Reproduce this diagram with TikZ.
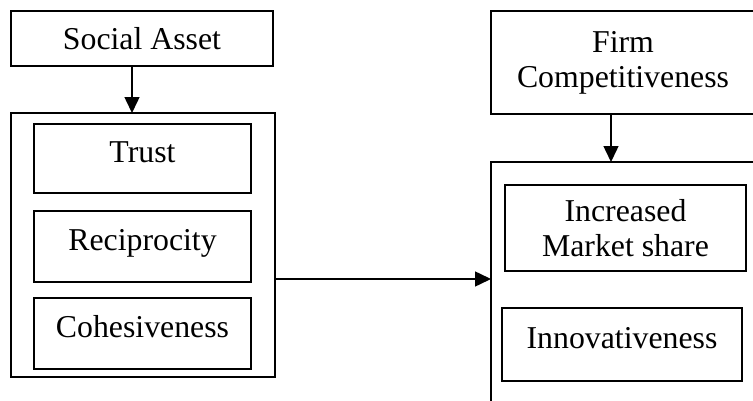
\documentclass[tikz,border=0pt]{standalone}
\usepackage{fontspec}
\setmainfont{Liberation Serif}
\usetikzlibrary{arrows.meta}

\begin{document}
\begin{tikzpicture}[
  x=1pt, y=1pt,
  every node/.style={font=\fontsize{31.8}{35}\selectfont, inner sep=0pt, outer sep=0pt},
  headbox/.style={draw, line width=2pt, align=center},
  outerbox/.style={draw, line width=2pt},
  itembox/.style={draw, line width=1.5pt, align=center},
  raised/.style={text height=21pt, text depth=14pt},
  arr/.style={-{Triangle[length=16pt, width=15pt]}, line width=1.5pt},
]
\useasboundingbox (0,0) rectangle (753,400);
\clip (0,0) rectangle (753,400);

% Left column: Social Asset
\node[headbox, minimum width=262, minimum height=55] (social) at (142,361.5) {Social Asset};
\node[outerbox, minimum width=264, minimum height=264] (leftbox) at (143,155) {};

\node[itembox, raised, minimum width=217, minimum height=69] (trust) at (142.5,241.5) {Trust};
\node[itembox, raised, minimum width=217, minimum height=71] (recip) at (142.5,153.5) {Reciprocity};
\node[itembox, raised, minimum width=217, minimum height=71] (cohes) at (142.5,66.5) {Cohesiveness};

% Right column: Firm Competitiveness
\node[headbox, minimum width=264, minimum height=103] (firm) at (623,337.5) {Firm\\Competitiveness};
\node[outerbox, minimum width=264, minimum height=258] (rightbox) at (623,109) {};

\node[itembox, minimum width=241, minimum height=86] (market) at (625.5,172) {Increased\\Market share};
\node[itembox, raised, minimum width=240, minimum height=73] (innov) at (622,55.5) {Innovativeness};

% Arrows
\draw[arr] ([xshift=-10pt]social.south) -- ([xshift=-10pt]social.south |- leftbox.north);
\draw[arr] ([xshift=-12pt]firm.south) -- ([xshift=-12pt]firm.south |- rightbox.north);
\draw[arr] ([yshift=-34pt]leftbox.east) -- ([yshift=-34pt]leftbox.east -| rightbox.west);

\end{tikzpicture}
\end{document}
